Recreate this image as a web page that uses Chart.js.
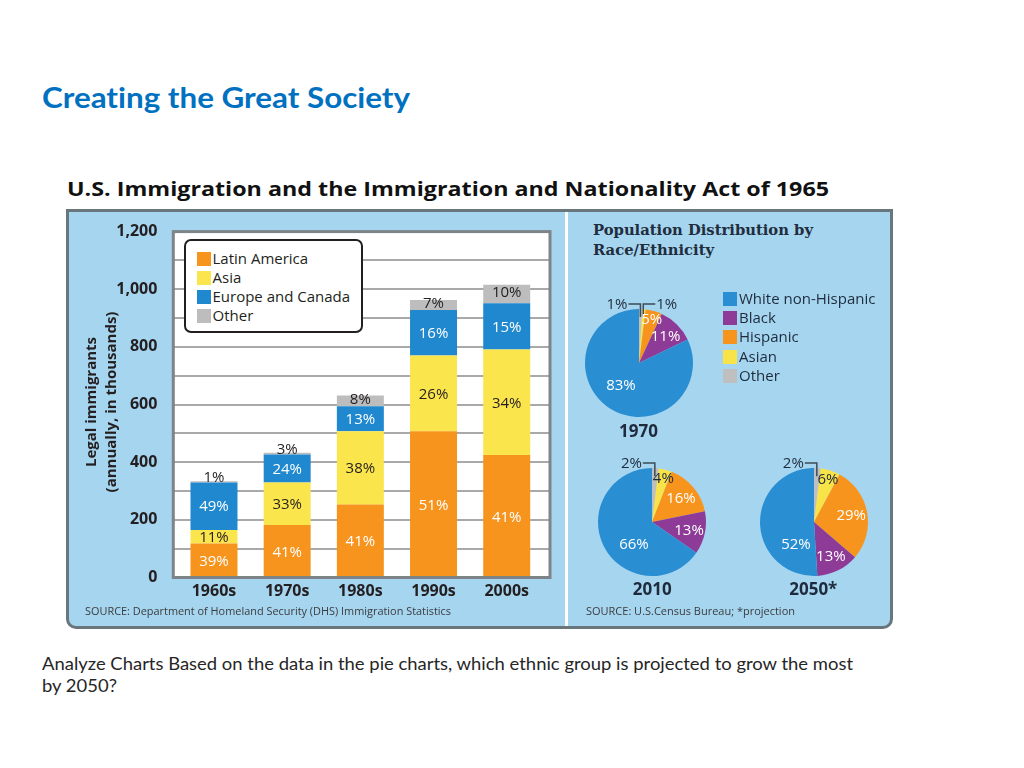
<!DOCTYPE html>
<html>
<head>
<meta charset="utf-8">
<script src="https://cdn.jsdelivr.net/npm/chart.js@4"></script>
<style>
  body { margin: 0; width: 1024px; height: 768px; background: #fff; position: relative; overflow: hidden; font-family: "Open Sans", sans-serif; }
  .abs { position: absolute; white-space: nowrap; }
  .fit { transform-origin: 0 0; }
  #title { left: 42px; top: 81.6px; font: bold 29px/29px Lato, sans-serif; font-variant-ligatures: none; color: #0070c0; }
  #panelTitle { left: 67px; top: 180px; font: bold 19px/19px "Open Sans", sans-serif; color: #111; }
  #panel { left: 66px; top: 209px; width: 821px; height: 414px; border: 3px solid #69767b; border-radius: 0 0 10px 10px; background: #a6d5f0; }
  #divider { left: 565px; top: 212px; width: 3px; height: 414px; background: #fff; }
  canvas { position: absolute; }
  #ytitle { left: -10px; top: 382px; width: 220px; text-align: center; font: bold 15px/20px "Open Sans", sans-serif; color: #231f20; transform: rotate(-90deg); }
  #barLegend { left: 184px; top: 239px; width: 175px; height: 90px; border: 2px solid #231f20; border-radius: 7px; background: #fff; }
  .row { position: absolute; height: 19px; font: 15px/19px "Open Sans", sans-serif; color: #231f20; white-space: nowrap; }
  .sw { position: absolute; left: 0; top: 2px; width: 14px; height: 14px; }
  .row span { position: absolute; left: 16px; top: -1px; }
  #srcLeft { left: 85px; top: 604.7px; font: 11px/11px "Open Sans", sans-serif; color: #3b3b3b; }
  #srcRight { left: 585.5px; top: 604.9px; font: 11px/11px "Open Sans", sans-serif; color: #3b3b3b; }
  #pieTitle { left: 593px; top: 219.8px; font: bold 14px/20px "DejaVu Serif", serif; color: #1f2d3d; }
  #pieLegend .row { color: #1e2b3c; }
  .year { width: 80px; text-align: center; font: bold 17px/17px "Open Sans", sans-serif; color: #1e2b3c; }
  #question { left: 42px; top: 653.3px; font: 18px/21.7px Lato, sans-serif; font-variant-ligatures: none; color: #262626; }
</style>
</head>
<body>
<div id="title" class="abs fit" data-w="368">Creating the Great Society</div>
<div id="panelTitle" class="abs fit" data-w="762">U.S. Immigration and the Immigration and Nationality Act of 1965</div>
<div id="panel" class="abs"></div>
<div id="divider" class="abs"></div>

<canvas id="bars" width="490" height="400" style="left:70px; top:210px;"></canvas>
<div id="ytitle" class="abs">Legal immigrants<br>(annually, in thousands)</div>
<div id="barLegend" class="abs"></div>
<div id="srcLeft" class="abs fit" data-w="366">SOURCE: Department of Homeland Security (DHS) Immigration Statistics</div>

<div id="pieTitle" class="abs fit" data-w="220">Population Distribution by<br>Race/Ethnicity</div>
<canvas id="pie0" width="200" height="160" style="left:538.5px; top:283px;"></canvas>
<canvas id="pie1" width="200" height="160" style="left:552.3px; top:442.3px;"></canvas>
<canvas id="pie2" width="200" height="160" style="left:714px; top:442.3px;"></canvas>
<div id="pieLegend" class="abs" style="left:723px; top:0;"></div>
<div id="year0" class="abs year" style="left:598.5px; top:421.5px;"></div>
<div id="year1" class="abs year" style="left:612.3px; top:580px;"></div>
<div id="year2" class="abs year" style="left:773.3px; top:580px;"></div>
<div id="srcRight" class="abs fit" data-w="209">SOURCE: U.S.Census Bureau; *projection</div>

<div id="question" class="abs fit" data-w="811">Analyze Charts Based on the data in the pie charts, which ethnic group is projected to grow the most<br>by 2050?</div>

<script>
// immigration by decade, thousands per year
const decades = ["1960s", "1970s", "1980s", "1990s", "2000s"];
const latinAmerica = [118, 182, 253, 507, 425];
const asia = [47, 148, 254, 263, 366];
const europeCanada = [165, 97, 87, 158, 160];
const other = [4, 6, 37, 35, 65];

// printed shares on each segment
const latinPct = ["39%", "41%", "41%", "51%", "41%"];
const asiaPct = ["11%", "33%", "38%", "26%", "34%"];
const europePct = ["49%", "24%", "13%", "16%", "15%"];
const otherPct = ["1%", "3%", "8%", "7%", "10%"];

const regions = ["Latin America", "Asia", "Europe and Canada", "Other"];

// population distribution, percent
const groups = ["White non-Hispanic", "Black", "Hispanic", "Asian", "Other"];
const pie1970 = [83, 11, 5, 1, 1];
const pie2010 = [66, 13, 16, 4, 2];
const pie2050 = [52, 13, 29, 6, 2];
const pieYears = ["1970", "2010", "2050*"];

const barColours = ["#f7941d", "#fbe54d", "#1f88cf", "#bdbdbd"];
const barLabelColours = ["#fff", "#231f20", "#fff", "#231f20"];
const pieColours = ["#2a8ed2", "#8e3b97", "#f7941d", "#f8e349", "#c0bfbf"];
const pieLabelColours = ["#fff", "#fff", "#fff", "#1e2b3c", "#1e2b3c"];

// legends
const barLegend = document.getElementById("barLegend");
regions.forEach((name, i) => {
  const row = document.createElement("div");
  row.className = "row";
  row.style.left = "10.5px";
  row.style.top = (8.5 + i * 19.3) + "px";
  row.innerHTML = `<div class="sw" style="background:${barColours[i]}"></div><span>${name}</span>`;
  barLegend.appendChild(row);
});

const pieLegend = document.getElementById("pieLegend");
groups.forEach((name, i) => {
  const row = document.createElement("div");
  row.className = "row";
  row.style.left = "0";
  row.style.top = (289.5 + i * 19.45) + "px";
  row.innerHTML = `<div class="sw" style="background:${pieColours[i]}"></div><span>${name}</span>`;
  pieLegend.appendChild(row);
});

// white plot box, grid lines and grey frame, a little wider than the bar area
const plotFrame = {
  id: "plotFrame",
  beforeDatasetsDraw(chart, args, opts) {
    const { ctx, chartArea: a, scales: { y } } = chart;
    const l = a.left - opts.padLeft, r = a.right + opts.padRight;
    ctx.save();
    ctx.fillStyle = "#fff";
    ctx.fillRect(l, a.top, r - l, a.bottom - a.top);
    ctx.strokeStyle = opts.gridColor;
    ctx.lineWidth = 2;
    y.ticks.forEach((t) => {
      if (t.value <= y.min || t.value >= y.max) return;
      const py = Math.round(y.getPixelForValue(t.value));
      ctx.beginPath();
      ctx.moveTo(l, py);
      ctx.lineTo(r, py);
      ctx.stroke();
    });
    ctx.restore();
  },
  afterDatasetsDraw(chart, args, opts) {
    const { ctx, chartArea: a } = chart;
    const l = a.left - opts.padLeft, r = a.right + opts.padRight;
    ctx.save();
    ctx.strokeStyle = opts.frameColor;
    ctx.lineWidth = 3;
    ctx.strokeRect(l, a.top, r - l, a.bottom - a.top);
    ctx.restore();
  },
};

const barPct = {
  id: "barPct",
  afterDatasetsDraw(chart) {
    const ctx = chart.ctx;
    ctx.save();
    ctx.font = '15px "Open Sans"';
    ctx.textAlign = "center";
    ctx.textBaseline = "middle";
    chart.data.datasets.forEach((ds, di) => {
      chart.getDatasetMeta(di).data.forEach((bar, i) => {
        let cy = (bar.y + bar.base) / 2 + 1;
        if (ds.lift) cy = bar.base - bar.y < 8 ? bar.y - 3 : cy - 2;
        ctx.fillStyle = ds.labelColour;
        ctx.fillText(ds.pct[i], bar.x, cy);
      });
    });
    ctx.restore();
  },
};

const seriesValues = [latinAmerica, asia, europeCanada, other];
const seriesPct = [latinPct, asiaPct, europePct, otherPct];

new Chart(document.getElementById("bars"), {
  type: "bar",
  data: {
    labels: decades,
    datasets: regions.map((name, i) => ({
      label: name,
      data: seriesValues[i],
      backgroundColor: barColours[i],
      pct: seriesPct[i],
      labelColour: barLabelColours[i],
      lift: name === "Other",
    })),
  },
  options: {
    responsive: false,
    animation: false,
    layout: { padding: { top: 17.5, right: 16.7, bottom: 0, left: 0 } },
    datasets: { bar: { categoryPercentage: 1, barPercentage: 0.642 } },
    plugins: {
      legend: { display: false },
      tooltip: { enabled: false },
      plotFrame: { padLeft: 4.1, padRight: 6.7, gridColor: "#a9a9a9", frameColor: "#7d8588" },
    },
    scales: {
      x: {
        stacked: true,
        grid: { display: false },
        border: { display: false },
        ticks: { color: "#231f20", padding: -4, font: { family: "Open Sans", size: 16, weight: "bold" } },
        afterFit: (s) => { s.height = 32.5; },
      },
      y: {
        stacked: true,
        min: 0,
        max: 1200,
        grid: { display: false },
        border: { display: false },
        ticks: {
          stepSize: 100,
          autoSkip: false,
          padding: 12,
          color: "#231f20",
          font: { family: "Open Sans", size: 16, weight: "bold" },
          callback: (v) => (v % 200 ? "" : v.toLocaleString("en-US")),
        },
        afterFit: (s) => { s.width = 107.4; },
      },
    },
  },
  plugins: [plotFrame, barPct],
});

// slice labels: inside for bigger slices, leader lines for the thin ones at the top
const pieLabels = {
  id: "pieLabels",
  afterDatasetsDraw(chart) {
    const ctx = chart.ctx;
    const ds = chart.data.datasets[0];
    const arcs = chart.getDatasetMeta(0).data;
    const max = Math.max(...ds.data);
    let tiny = 0;
    ctx.save();
    ctx.font = '15px "Open Sans"';
    ctx.textBaseline = "middle";
    arcs.forEach((arc, i) => {
      const v = ds.data[i];
      const { x, y, startAngle, endAngle, outerRadius: r } = arc;
      const mid = (startAngle + endAngle) / 2;
      const text = v + "%";
      if (v <= 2) {
        const left = tiny++ === 0;
        const ax = x + Math.cos(mid) * r * 0.85;
        const ay = y + Math.sin(mid) * r * 0.85;
        const ly = y - r - 5;
        const ex = left ? ax - 12 : ax + 12;
        ctx.strokeStyle = "#3d4b55";
        ctx.lineWidth = 1.5;
        ctx.beginPath();
        ctx.moveTo(ax, ay);
        ctx.lineTo(ax, ly);
        ctx.lineTo(ex, ly);
        ctx.stroke();
        ctx.fillStyle = "#1e2b3c";
        ctx.textAlign = left ? "right" : "left";
        ctx.fillText(text, left ? ex - 1 : ex + 1, ly + 1);
        return;
      }
      let a = mid, f = 0.7;
      if (v === max) { a = (130 * Math.PI) / 180; f = 0.52; }
      else if (v < 7) f = 0.85;
      ctx.fillStyle = ds.labelColours[i];
      ctx.textAlign = "center";
      ctx.fillText(text, x + Math.cos(a) * r * f, y + Math.sin(a) * r * f + 1);
    });
    ctx.restore();
  },
};

// slices run clockwise from the top in reverse legend order
[pie1970, pie2010, pie2050].forEach((values, k) => {
  document.getElementById("year" + k).textContent = pieYears[k];
  new Chart(document.getElementById("pie" + k), {
    type: "pie",
    data: {
      labels: groups.slice().reverse(),
      datasets: [{
        data: values.slice().reverse(),
        backgroundColor: pieColours.slice().reverse(),
        labelColours: pieLabelColours.slice().reverse(),
        borderWidth: 0,
      }],
    },
    options: {
      responsive: false,
      animation: false,
      layout: { padding: { left: 46, right: 46, top: 26, bottom: 26 } },
      plugins: { legend: { display: false }, tooltip: { enabled: false } },
    },
    plugins: [pieLabels],
  });
});

// squeeze substituted fonts to the widths of the original lettering
document.querySelectorAll(".fit").forEach((el) => {
  const w = el.getBoundingClientRect().width;
  el.style.transform = `scaleX(${el.dataset.w / w})`;
});
</script>
</body>
</html>
